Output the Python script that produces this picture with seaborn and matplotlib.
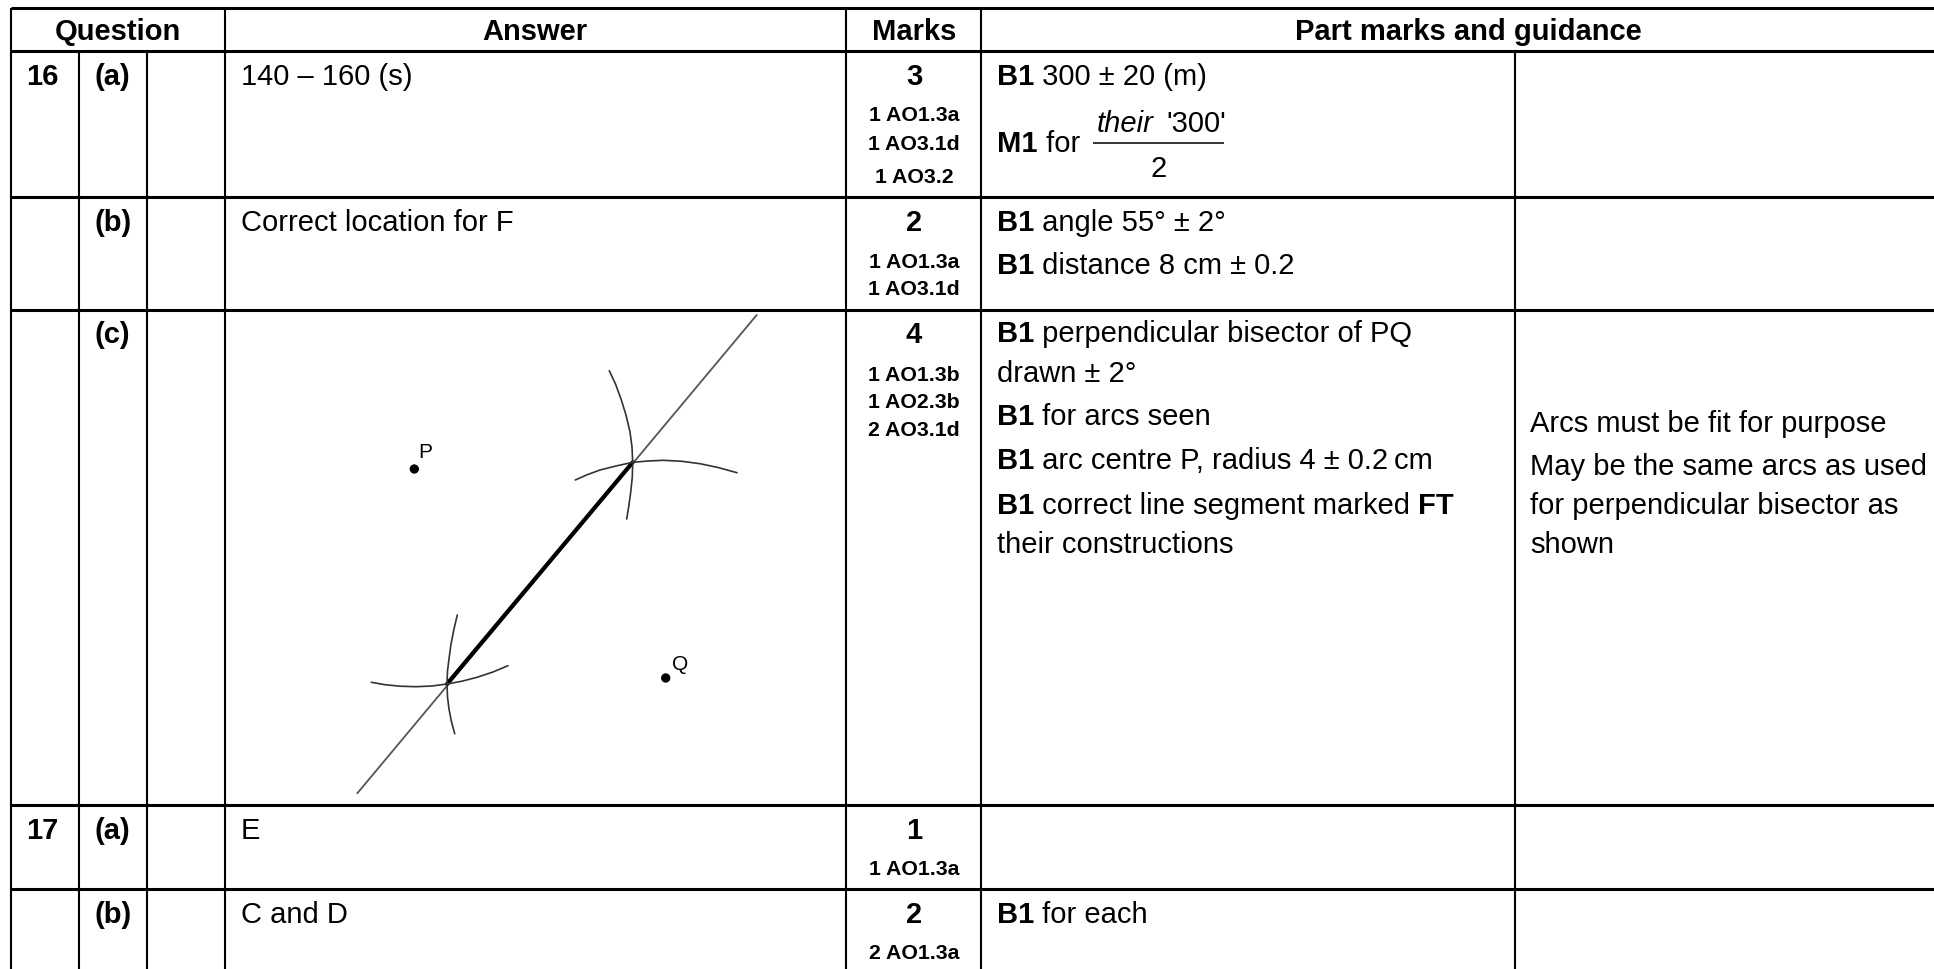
import matplotlib
matplotlib.use("Agg")
import matplotlib.pyplot as plt
import pandas as pd
import seaborn as sns

sns.set_theme(style="white")
plt.rcParams['font.family'] = ['Liberation Sans', 'DejaVu Sans']

BODY = 21
SMALL = 15.3

# table grid, in reference pixels
col_edges = [11, 79, 147, 225, 846, 981, 1515]
row_edges = [9, 52, 198, 311, 806, 890]

headers = ["Question", "Answer", "Marks", "Part marks and guidance"]
header_x = [118, 535, 914, 1468]

# (x, baseline, text)
labels = [
    (26, 85, "16"), (95, 85, "(a)"), (95, 231, "(b)"), (95, 343, "(c)"),
    (26, 839, "17"), (95, 839, "(a)"), (95, 923, "(b)"),
]
answers = [
    (241, 85, "140 – 160 (s)"), (241, 231, "Correct location for F"),
    (241, 839, "E"), (241, 923, "C and D"),
]
marks = [(85, "3"), (231, "2"), (343, "4"), (839, "1"), (923, "2")]
mark_codes = [
    (121, "1 AO1.3a"), (150, "1 AO3.1d"), (183, "1 AO3.2"),
    (268, "1 AO1.3a"), (295, "1 AO3.1d"),
    (381, "1 AO1.3b"), (408, "1 AO2.3b"), (436, "2 AO3.1d"),
    (875, "1 AO1.3a"), (959, "2 AO1.3a"),
]
guidance = [
    (85, [("B1", "bold"), (" 300 ± 20 (m)", "normal")]),
    (152, [("M1", "bold"), (" for", "normal")]),
    (231, [("B1", "bold"), (" angle 55° ± 2°", "normal")]),
    (274, [("B1", "bold"), (" distance 8 cm ± 0.2", "normal")]),
    (342, [("B1", "bold"), (" perpendicular bisector of PQ", "normal")]),
    (382, [("drawn ± 2°", "normal")]),
    (425, [("B1", "bold"), (" for arcs seen", "normal")]),
    (469, [("B1", "bold"), (" arc centre P, radius 4 ± 0.2\u2009cm", "normal")]),
    (514, [("B1", "bold"), (" correct line segment marked ", "normal"), ("FT", "bold")]),
    (553, [("their constructions", "normal")]),
    (923, [("B1", "bold"), (" for each", "normal")]),
]
notes = [
    (432, "Arcs must be fit for purpose"),
    (475, "May be the same arcs as used"),
    (514, "for perpendicular bisector as"),
    (553, "shown"),
]

# construction diagram
bisector_x = [756.7, 357.3]
bisector_y = [316, 794.3]
segment_x = [632.7, 447]
segment_y = [463.3, 685]
arc_up_v_x = [609.3, 615.5, 621, 626, 630, 632, 632.7, 632.3, 630.7, 628.8, 626.7]
arc_up_v_y = [371.7, 385, 400, 416, 433, 448, 463.3, 478, 493.3, 507, 520]
arc_up_h_x = [575.3, 587, 600, 616, 632.7, 648, 663.3, 682, 700, 718, 737]
arc_up_h_y = [481, 475.8, 471, 467, 463.3, 462, 461.3, 462.3, 464.7, 468.5, 473.7]
arc_lo_v_x = [457.3, 454, 451, 449, 447.5, 447, 447.5, 449, 451.3, 454.7]
arc_lo_v_y = [616, 630, 645, 660, 672, 685, 698, 710, 722, 734.7]
arc_lo_h_x = [371.3, 385, 400, 416, 432, 447, 462, 477, 493, 508]
arc_lo_h_y = [683.3, 685.7, 687.2, 687.7, 687, 685, 682.2, 678.3, 673, 666.7]
point_x = [414.3, 665.7]
point_y = [470, 679]
point_names = ["P", "Q"]
point_label_x = [425, 680]
point_label_y = [452.3, 665]

fig = plt.figure(figsize=(19.34, 9.7), dpi=100)
ax = fig.add_axes([0, 0, 1, 1])
ax.set_xlim(0, 1934)
ax.set_ylim(970, 0)
ax.axis("off")

# grid
ax.hlines(row_edges, 11, 1934, color="black", lw=2.2)
ax.vlines(col_edges[0], 9, 970, color="black", lw=1.5)
ax.vlines(col_edges[3:5], 9, 970, color="black", lw=1.5)
ax.vlines(col_edges[5], 9, 970, color="black", lw=1.5)
ax.vlines(col_edges[1:3], 52, 970, color="black", lw=1.5)
ax.vlines(col_edges[6], 52, 970, color="black", lw=1.5)

for x, text in zip(header_x, headers):
    ax.text(x, 32, text, ha="center", va="center", fontsize=BODY, fontweight="bold", color="black")
for x, y, text in labels:
    ax.text(x, y, text, va="baseline", fontsize=BODY, fontweight="bold", color="black")
for x, y, text in answers:
    ax.text(x, y, text, va="baseline", fontsize=BODY, color="black")
for y, text in marks:
    ax.text(914, y, text, ha="center", va="baseline", fontsize=BODY, fontweight="bold", color="black")
for y, text in mark_codes:
    ax.text(914, y, text, ha="center", va="baseline", fontsize=SMALL, fontweight="bold", color="black")

renderer = fig.canvas.get_renderer()
for y, runs in guidance:
    x = 997
    for text, weight in runs:
        t = ax.text(x, y, text, va="baseline", fontsize=BODY, fontweight=weight, color="black")
        # spaces are not measured on their own, so keep them with a stand-in
        t.set_text(text.replace(" ", "\u00a0"))
        box = t.get_window_extent(renderer)
        x = ax.transData.inverted().transform((box.x1, 0))[0]
for y, text in notes:
    ax.text(1530, y, text, va="baseline", fontsize=BODY, color="black")

# fraction in the M1 line
ax.text(1097, 132, "their", va="baseline", fontsize=BODY, style="italic", color="black")
ax.text(1166, 132, "'300'", va="baseline", fontsize=BODY, color="black")
ax.hlines(144, 1093, 1224, color="#333333", lw=1.4)
ax.text(1159, 177, "2", ha="center", va="baseline", fontsize=BODY, color="black")

# diagram
thin = [(bisector_x, bisector_y, "#555555", 1.3), (segment_x, segment_y, "black", 3.0)]
thin += [(arc_up_v_x, arc_up_v_y, "#333333", 1.2), (arc_up_h_x, arc_up_h_y, "#333333", 1.2)]
thin += [(arc_lo_v_x, arc_lo_v_y, "#333333", 1.2), (arc_lo_h_x, arc_lo_h_y, "#333333", 1.2)]
for xs, ys, colour, width in thin:
    frame = pd.DataFrame({"x": xs, "y": ys})
    sns.lineplot(data=frame, x="x", y="y", sort=False, estimator=None, color=colour, lw=width, ax=ax)
sns.scatterplot(x=point_x, y=point_y, color="black", s=45, edgecolor="none", ax=ax)
for x, y, name in zip(point_label_x, point_label_y, point_names):
    ax.text(x, y, name, ha="center", va="center", fontsize=15, color="black")

ax.set_xlim(0, 1934)
ax.set_ylim(970, 0)
ax.axis("off")
fig.savefig("out.png", dpi=100)
